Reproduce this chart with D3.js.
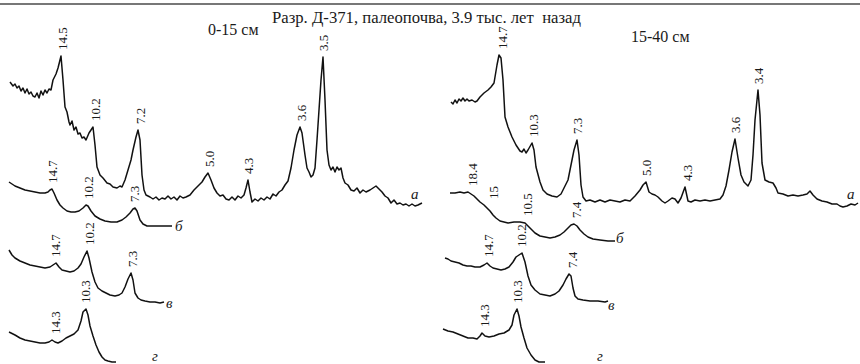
<!DOCTYPE html>
<html>
<head>
<meta charset="utf-8">
<script src="https://cdn.jsdelivr.net/npm/d3@7/dist/d3.min.js"></script>
<style>
  body { margin: 0; background: #fff; }
  svg text { fill: #1a1a1a; white-space: pre; }
</style>
</head>
<body>
<div id="chart"></div>
<script>
  // title and panel captions
  var title = "Разр. Д-371, палеопочва, 3.9 тыс. лет  назад";
  var panelNames = ["0-15 см", "15-40 см"];
  var curveNames = ["а", "б", "в", "г"];

  // diffractograms, [position, intensity], panel 0-15 cm
  var a015 = [[10,124],[13,120],[15,122],[17,118],[19,120],[21,115],[23,118],[25,113],[27,117],[29,112],[31,114],[33,110],[35,109],[37,113],[39,108],[41,115],[43,111],[45,116],[47,113],[49,117],[51,116],[53,126],[56,132],[58,138],[61,150],[63,126],[65,99],[67,94],[69,84],[70,81],[72,85],[74,76],[76,79],[78,72],[80,73],[82,68],[84,69],[86,66],[89,73],[91,76],[93,79],[95,61],[97,39],[100,31],[103,28],[107,23],[110,22],[113,19],[117,18],[120,20],[122,19],[125,26],[128,36],[131,46],[133,56],[136,69],[138,76],[140,66],[142,31],[144,16],[146,11],[150,9],[153,7],[156,9],[159,6],[162,8],[165,7],[168,10],[171,7],[174,9],[177,6],[180,10],[183,8],[186,9],[190,11],[194,16],[198,20],[202,24],[205,29],[208,33],[211,26],[214,18],[217,13],[220,10],[223,11],[226,7],[229,6],[232,9],[235,6],[238,10],[241,8],[244,11],[246,18],[248,26],[250,14],[252,4],[255,7],[258,5],[261,8],[264,6],[267,9],[270,7],[273,12],[276,10],[279,14],[282,16],[285,21],[288,25],[291,38],[294,56],[297,71],[300,79],[302,73],[305,51],[307,38],[309,34],[311,29],[313,31],[315,38],[317,66],[319,96],[321,126],[323,149],[325,106],[327,56],[329,41],[331,36],[333,39],[335,34],[337,39],[339,36],[341,38],[343,28],[345,23],[348,21],[351,16],[354,15],[357,18],[360,13],[363,16],[366,14],[370,16],[373,18],[376,20],[379,17],[382,14],[385,10],[388,8],[391,3],[394,6],[397,2],[400,3],[403,1],[406,2],[409,0],[412,2],[415,0],[418,1],[422,3]];
  var b015 = [[9,44],[15,40],[20,38],[25,36],[30,35],[35,34],[40,33],[45,33],[48,34],[50,36],[52,37],[54,33],[57,26],[60,21],[63,18],[67,15],[71,14],[75,14],[79,15],[83,18],[86,21],[88,20],[91,15],[95,10],[100,7],[105,5],[111,4],[117,4],[122,6],[126,9],[130,13],[133,17],[135,18],[137,15],[140,6],[143,2],[147,0],[155,0],[165,0],[172,0]];
  var v015 = [[9,53],[12,48],[15,45],[20,42],[25,40],[30,38],[35,37],[40,36],[45,35],[50,36],[53,38],[56,40],[59,36],[62,33],[66,32],[70,31],[74,32],[78,35],[81,39],[84,46],[87,52],[89,45],[92,31],[95,21],[98,15],[102,12],[106,10],[110,8],[115,7],[119,8],[122,10],[125,16],[128,24],[131,30],[133,23],[135,10],[138,5],[141,3],[145,2],[150,1],[155,1],[160,0],[164,1]];
  var g015 = [[9,31],[15,28],[20,25],[25,23],[30,22],[35,21],[40,20],[45,20],[49,21],[52,23],[55,21],[58,20],[62,22],[66,25],[70,27],[74,29],[78,33],[81,42],[83,51],[86,54],[88,48],[90,37],[93,27],[96,18],[99,11],[102,6],[105,3],[108,2],[112,1],[116,1]];

  // panel 15-40 cm
  var a1540 = [[21,105],[23,103],[25,107],[27,104],[29,108],[31,106],[33,109],[35,106],[37,108],[39,106],[42,107],[45,105],[47,106],[50,110],[54,114],[58,117],[61,120],[64,124],[67,142],[69,152],[71,149],[73,127],[75,90],[78,80],[82,70],[86,62],[90,56],[92,55],[94,58],[96,54],[98,57],[102,64],[104,57],[106,40],[110,25],[113,17],[117,13],[122,11],[127,10],[131,13],[134,19],[138,27],[141,42],[144,57],[147,67],[149,52],[151,22],[153,10],[156,6],[160,7],[165,5],[170,7],[175,5],[180,7],[185,6],[190,5],[195,7],[200,6],[205,11],[210,17],[213,22],[216,25],[219,15],[222,13],[225,12],[228,10],[232,6],[235,4],[238,6],[242,9],[245,8],[248,4],[251,9],[255,20],[258,6],[261,5],[265,7],[270,6],[275,7],[280,6],[285,7],[290,8],[293,12],[296,21],[299,37],[302,55],[305,68],[308,49],[311,32],[314,25],[318,21],[321,27],[323,52],[325,87],[328,117],[330,92],[332,44],[335,27],[339,25],[343,24],[346,19],[348,14],[353,13],[358,11],[363,12],[368,11],[373,12],[377,13],[380,16],[383,12],[387,8],[392,6],[397,5],[402,3],[407,3],[410,1],[413,0],[417,1],[421,3],[425,2],[428,4]];
  var b1540 = [[20,48],[25,48],[30,49],[34,48],[38,49],[41,47],[44,45],[47,42],[50,39],[54,36],[57,33],[60,30],[63,26],[66,23],[70,20],[74,19],[78,18],[84,19],[90,19],[95,18],[98,15],[101,12],[105,8],[110,5],[115,4],[120,3],[125,4],[130,6],[134,9],[138,13],[141,16],[144,17],[147,15],[150,11],[154,7],[158,4],[163,2],[170,1],[178,0],[185,0]];
  var v1540 = [[15,44],[18,43],[21,41],[25,40],[29,39],[33,37],[37,36],[41,36],[45,35],[50,35],[54,37],[57,39],[60,36],[63,34],[67,33],[71,32],[75,33],[79,35],[83,40],[86,45],[89,47],[92,49],[95,40],[98,26],[101,17],[105,12],[110,8],[115,7],[120,6],[125,8],[129,11],[133,17],[136,23],[139,28],[141,26],[143,14],[145,6],[148,3],[153,2],[160,1],[168,1],[175,0],[178,1]];
  var g1540 = [[13,34],[18,32],[23,31],[28,29],[33,27],[38,25],[43,25],[47,24],[50,27],[52,30],[55,27],[59,26],[64,27],[69,29],[74,30],[79,33],[82,38],[84,48],[87,54],[89,47],[91,36],[94,25],[97,15],[101,8],[105,3],[109,1],[115,1]];

  // peak labels (d, Å) and where they stand along the position axis
  var peaks015 = [
    [["14.5",62],["10.2",95],["7.2",140],["5.0",209],["4.3",248],["3.6",301],["3.5",323]],
    [["14.7",52],["10.2",88],["7.3",134]],
    [["14.7",55],["10.2",89],["7.3",132]],
    [["14.3",55],["10.3",85]]
  ];
  var peaks1540 = [
    [["14.7",72],["10.3",103],["7.3",147],["5.0",216],["4.3",257],["3.6",305],["3.4",328]],
    [["18.4",42],["15",63],["10.5",97],["7.4",146]],
    [["14.7",58],["10.2",91],["7.4",142]],
    [["14.3",54],["10.3",87]]
  ];

  var width = 860, height = 364;

  var svg = d3.select("#chart").append("svg")
      .attr("width", width)
      .attr("height", height)
      .attr("font-family", "'Liberation Serif', 'Times New Roman', serif");

  // rule across the top
  svg.append("line")
      .attr("x1", 0).attr("x2", width)
      .attr("y1", 4).attr("y2", 4)
      .attr("stroke", "#4a4a4a")
      .attr("stroke-width", 1.6);

  svg.append("text")
      .attr("x", 272).attr("y", 23)
      .style("font-size", "16.7px")
      .text(title);

  // scales: position along the trace, intensity upward from each trace's base
  var xScale = d3.scaleLinear().domain([0, 430]).range([0, 430]);
  var yScale = d3.scaleLinear().domain([0, 160]).range([0, -160]);

  var line = d3.line()
      .x(function(d) { return xScale(d[0]); })
      .y(function(d) { return yScale(d[1]); });

  var panels = [
    { x: 0, name: panelNames[0], nameX: 208, nameY: 35,
      curves: [a015, b015, v015, g015], peaks: peaks015,
      bases: [206, 226, 303, 363],
      letters: [[411, -7], [175, 5], [166, 5], [152, -2]] },
    { x: 430, name: panelNames[1], nameX: 201, nameY: 42,
      curves: [a1540, b1540, v1540, g1540], peaks: peaks1540,
      bases: [207, 241, 302, 363],
      letters: [[417, -8], [186, 2], [178, 8], [167, -2]] }
  ];

  // intensity at a position: max of the trace in a small window
  function localMax(data, x) {
    var near = data.filter(function(d) { return Math.abs(d[0] - x) <= 10; });
    return d3.max(near, function(d) { return d[1]; });
  }

  panels.forEach(function(p) {
    var g = svg.append("g").attr("transform", "translate(" + p.x + ",0)");

    g.append("text")
      .attr("x", p.nameX).attr("y", p.nameY)
      .style("font-size", "16px")
      .text(p.name);

    p.curves.forEach(function(data, i) {
      var cg = g.append("g").attr("transform", "translate(0," + p.bases[i] + ")");

      cg.append("path")
        .datum(data)
        .attr("fill", "none")
        .attr("stroke", "#111")
        .attr("stroke-width", 1.5)
        .attr("stroke-linejoin", "round")
        .attr("d", line);

      cg.selectAll(".peak")
        .data(p.peaks[i])
        .enter().append("text")
        .attr("class", "peak")
        .attr("transform", function(d) {
          var y = yScale(localMax(data, d[1])) - 6;
          return "translate(" + xScale(d[1]) + "," + y + ") rotate(-90)";
        })
        .attr("dominant-baseline", "central")
        .style("font-size", "13px")
        .text(function(d) { return d[0]; });

      cg.append("text")
        .attr("x", p.letters[i][0])
        .attr("y", p.letters[i][1])
        .style("font-size", "15px")
        .style("font-style", "italic")
        .text(curveNames[i]);
    });
  });
</script>
</body>
</html>
